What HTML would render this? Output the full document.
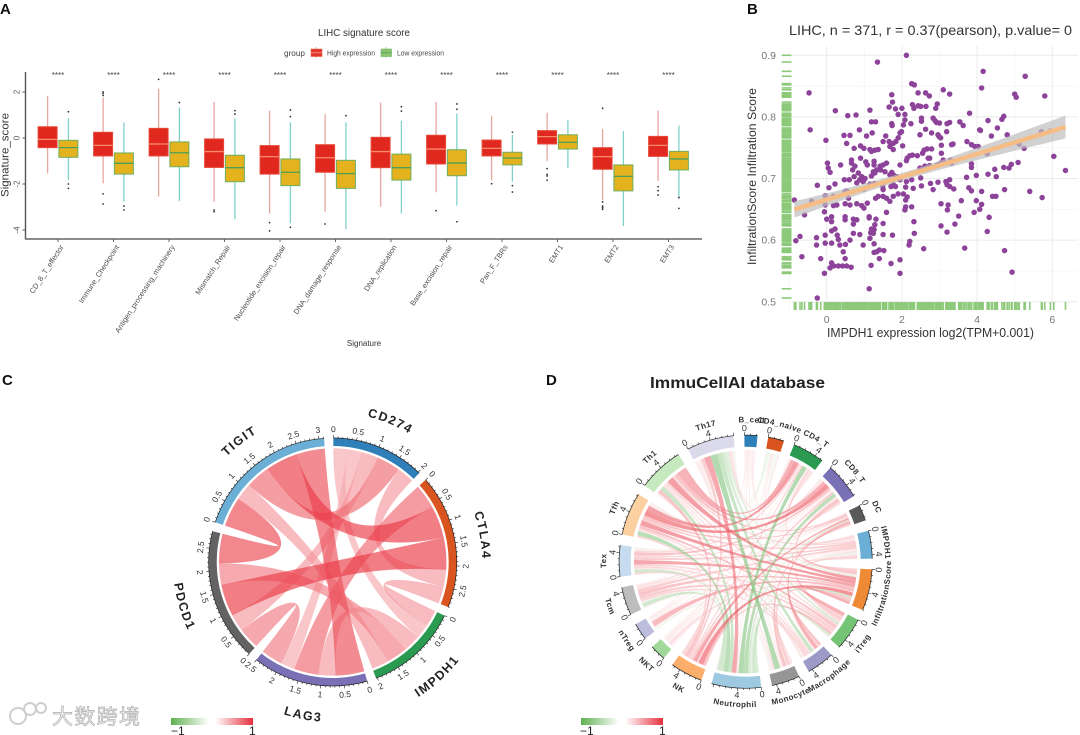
<!DOCTYPE html>
<html lang="en">
<head>
<meta charset="utf-8">
<title>LIHC immune signature figure</title>
<style>
html,body{margin:0;padding:0;background:#fff;}
body{width:1080px;height:735px;overflow:hidden;}
svg{display:block;filter:blur(0.35px);}
text{font-family:"Liberation Sans","Noto Sans CJK SC",sans-serif;}
</style>
</head>
<body>
<svg id="figure" width="1080" height="735" viewBox="0 0 1080 735">
  <defs>
    <linearGradient id="corrGradC" x1="0" x2="1" y1="0" y2="0">
      <stop offset="0" stop-color="#5fb04f"/><stop offset="0.46" stop-color="#ffffff"/><stop offset="0.54" stop-color="#ffffff"/><stop offset="1" stop-color="#e5303c"/>
    </linearGradient>
  </defs>
  <rect x="0" y="0" width="1080" height="735" fill="#fff"/>

  <text x="0" y="14" font-size="15" font-weight="bold" fill="#111">A</text>
  <text x="747" y="14" font-size="15" font-weight="bold" fill="#111">B</text>
  <text x="2" y="385" font-size="15" font-weight="bold" fill="#111">C</text>
  <text x="546" y="385" font-size="15" font-weight="bold" fill="#111">D</text>

  <g id="panelA">
    <text x="318" y="36" font-size="10" fill="#333" textLength="92" lengthAdjust="spacingAndGlyphs">LIHC signature score</text>
    <text x="284" y="56" font-size="8" fill="#444" textLength="21" lengthAdjust="spacingAndGlyphs">group</text>
    <g>
      <line x1="316" x2="316" y1="47" y2="58" stroke="#eaa89e" stroke-width="1"/>
      <rect x="311" y="49" width="11" height="7.5" fill="#e0362c" stroke="#e7604f" stroke-width=".6"/>
      <line x1="311" x2="322" y1="52.7" y2="52.7" stroke="#f98a70" stroke-width="1"/>
      <text x="327" y="55.5" font-size="7" fill="#444" textLength="48" lengthAdjust="spacingAndGlyphs">High expression</text>
    </g>
    <g>
      <line x1="386" x2="386" y1="47" y2="58" stroke="#9bd8a8" stroke-width="1"/>
      <rect x="381" y="49" width="10.5" height="7.5" fill="#8cc46f" stroke="#6fb56a" stroke-width=".6"/>
      <line x1="381" x2="391.5" y1="52.7" y2="52.7" stroke="#5aa862" stroke-width="1"/>
      <text x="397" y="55.5" font-size="7" fill="#444" textLength="47" lengthAdjust="spacingAndGlyphs">Low expression</text>
    </g>
    <line x1="25.5" x2="25.5" y1="72" y2="239.5" stroke="#555" stroke-width="1.4"/>
    <line x1="25" x2="702" y1="239" y2="239" stroke="#666" stroke-width="1.5"/>
    <text transform="translate(8.5,155) rotate(-90)" text-anchor="middle" font-size="11" fill="#333" textLength="84" lengthAdjust="spacingAndGlyphs">Signature_score</text>
    <text x="364" y="346" text-anchor="middle" font-size="8" fill="#333">Signature</text>
  </g>

  <g id="panelB">
    <text x="789" y="35" font-size="14" fill="#333" textLength="283" lengthAdjust="spacingAndGlyphs">LIHC, n = 371, r = 0.37(pearson), p.value= 0</text>
    <text x="827" y="337" font-size="12.5" fill="#333" textLength="207" lengthAdjust="spacingAndGlyphs">IMPDH1 expression log2(TPM+0.001)</text>
    <text transform="translate(756,176.5) rotate(-90)" text-anchor="middle" font-size="12" fill="#333" textLength="177" lengthAdjust="spacingAndGlyphs">InfiltrationScore Infiltration Score</text>
  </g>

  <g id="panelC"></g>
  <g id="panelD">
    <text x="650" y="388" font-size="15.5" font-weight="bold" fill="#222" textLength="175" lengthAdjust="spacingAndGlyphs">ImmuCellAI database</text>
  </g>

  <g>
    <rect x="171" y="718" width="82" height="7" fill="url(#corrGradC)"/>
    <text x="171" y="735" font-size="12" fill="#222">−1</text>
    <text x="249" y="735" font-size="12" fill="#222">1</text>
  </g>
  <g>
    <rect x="581" y="718" width="82" height="7" fill="url(#corrGradC)"/>
    <text x="580" y="735" font-size="12" fill="#222">−1</text>
    <text x="659" y="735" font-size="12" fill="#222">1</text>
  </g>

  <g opacity=".9">
    <circle cx="18" cy="716" r="8" fill="none" stroke="#c9c9c9" stroke-width="2"/>
    <circle cx="30" cy="709" r="6" fill="#fff" stroke="#c9c9c9" stroke-width="2"/>
    <circle cx="41" cy="708" r="5" fill="#fff" stroke="#c9c9c9" stroke-width="2"/>
    <text x="52" y="724" font-size="21" fill="#f2f2f2" stroke="#a8a8a8" stroke-width=".7" textLength="88" style="font-family:'Liberation Sans','Noto Sans CJK SC',sans-serif">大数跨境</text>
  </g>
</svg>

<script>
/* ===== Panel A data ===== */
const categories = ["CD_8_T_effector","Immune_Checkpoint","Antigen_processing_machinery","Mismatch_Repair","Nucleotide_excision_repair","DNA_damage_response","DNA_replication","Base_excision_repair","Pan_F_TBRs","EMT1","EMT2","EMT3"];
const boxYTicks = [2,0,-2,-4];
const significance = ["****","****","****","****","****","****","****","****","****","****","****","****"];
const highQ3 = [.49,.25,.42,-.04,-.33,-.29,.03,.12,-.09,.32,-.42,.07];
const highMedian = [-.06,-.32,-.26,-.59,-.81,-.86,-.59,-.48,-.45,.06,-.81,-.32];
const highQ1 = [-.42,-.78,-.78,-1.28,-1.57,-1.49,-1.29,-1.13,-.78,-.26,-1.36,-.8];
const highWhiskerTop = [1.83,1.75,2.14,1.57,1.19,1.04,1.54,1.57,.96,1.1,.39,1.19];
const highWhiskerBottom = [-1.54,-1.97,-2.55,-2.77,-3.28,-3.2,-2.99,-2.36,-1.83,-1.01,-2.7,-1.87];
const highOutliers = [[],[2,1.94,1.85,-2.43,-2.87],[2.55],[-3.13,-3.2],[-3.68,-4.04],[-3.74],[],[-3.16],[-1.99],[-1.33,-1.58,-1.65,-1.83],[1.29,-2.78,-2.96,-3.03,-3.1],[-2.12,-2.29,-2.48]];
const lowQ3 = [-.1,-.65,-.17,-.75,-.91,-.97,-.7,-.51,-.62,.14,-1.17,-.58];
const lowMedian = [-.42,-1.1,-.64,-1.29,-1.49,-1.55,-1.29,-1.09,-.87,-.19,-1.67,-.91];
const lowQ1 = [-.84,-1.57,-1.25,-1.9,-2.07,-2.19,-1.83,-1.64,-1.17,-.48,-2.3,-1.39];
const lowWhiskerTop = [.86,.67,1.33,.86,.68,.68,.75,1.07,.13,.77,.3,.54];
const lowWhiskerBottom = [-1.83,-2.77,-2.74,-3.54,-3.71,-3.97,-3.28,-2.94,-1.9,-1.32,-3.83,-2.55];
const lowOutliers = [[1.14,-2,-2.19],[-2.96,-3.13],[1.54],[1.19,1.04],[1.22,.93,-3.88],[.97],[1.36,1.17],[1.48,1.25,-3.64],[.25,-2.07,-2.35],[],[],[-2.59,-3.06]];

/* ===== Panel B data ===== */
const scatterX = [
2.12,1.35,4.16,5.28,4.12,-.47,2.26,2.33,3.1,2.43,2.63,2.73,3.27,5.0,5.04,5.8,1.73,1.75,1.66,2.28,
2.32,2.43,2.5,2.64,2.94,2.9,1.83,2,1.15,.23,.56,.78,2.08,1.9,3.8,4.71,4.66,4.29,2.83,2.52,
2.52,2.88,2.92,2.08,2.04,2.24,1.73,1.74,1.19,1.3,3.0,3.2,3.27,3.54,3.63,-.44,.87,1.21,1.06,.46,
.62,1.99,1.95,1.57,2.63,2.48,2.79,3.19,4.07,4.09,4.54,4.38,4.8,5.71,5.95,2.96,2.99,3.03,-.02,.53,
.73,.9,.99,1.15,1.19,1.28,1.37,1.5,1.66,1.77,1.84,1.9,1.68,1.77,2.02,2.59,2.79,2.67,3.05,3.05,
3.36,3.32,3.73,3.85,3.94,4.03,4.27,5.12,5.25,6.04,2.28,2.21,2.14,2.41,2.55,2.74,2.7,3.1,3.29,1.95,
2.12,2.61,2.48,2.74,2.94,3.03,3.32,3.85,3.85,.02,.04,.09,.37,.66,.66,.9,.75,1.04,1.08,1.26,
1.26,1.42,1.5,1.59,1.43,1.33,1.24,1.19,1.28,1.55,1.73,1.77,1.68,.69,.84,.93,1.02,.97,.88,.8,
.47,.6,.73,.06,.22,-.25,-.04,3.98,3.72,4.29,4.47,4.51,4.71,4.85,4.91,5.09,6.35,2.26,2.12,2.5,
2.52,2.76,2.96,3.17,3.27,3.2,3.27,3.38,2.83,3.78,3.85,4.12,4.73,5.4,5.73,4.41,4.5,1.86,1.95,1.77,
1.71,1.83,2.1,2.3,1.49,1.5,1.37,1.3,1.5,1.59,1.77,1.68,1.9,2.04,2.14,2.1,2.26,2.1,2.08,.49,
.53,.99,1.27,1.15,.18,.58,.49,.27,.18,-.04,-.06,.62,.8,.93,.99,1.08,-.4,-.86,-.59,1.59,
.13,0,.13,.49,.49,.71,.8,.71,1.13,1.13,1.31,1.5,1.28,1.19,1.26,1.17,1.24,1.5,1.75,2.32,
2.33,3.04,3.23,3.21,3.04,3.2,3.41,3.51,3.58,3.98,4.12,4.07,3.92,4.32,4.27,.22,.13,-.04,.28,-.27,
-.27,-.71,-.82,-.04,.13,.31,.35,.5,.62,.71,.88,.97,1.15,1.26,1.33,1.26,1.4,1.52,2.21,2.19,
2.58,3.67,4.73,-.66,-.16,.44,.49,1.4,1.71,1.95,.13,.09,.19,.31,.42,.53,.65,1.18,-.06,1.95,4.93,1.13,-.25];
const scatterY = [
.90,.889,.874,.866,.847,.839,.854,.852,.844,.839,.839,.834,.837,.837,.832,.834,.836,.824,.816,.82,
.814,.818,.817,.817,.821,.814,.813,.814,.811,.81,.802,.803,.804,.804,.806,.801,.796,.794,.798,.798,
.793,.794,.791,.795,.787,.789,.789,.786,.792,.792,.79,.789,.791,.792,.786,.779,.779,.774,.769,.77,
.77,.776,.774,.769,.78,.771,.774,.776,.779,.778,.782,.769,.771,.776,.777,.771,.768,.766,.762,.757,
.749,.753,.749,.747,.744,.746,.747,.76,.76,.757,.76,.766,.752,.747,.753,.746,.748,.748,.754,.741,
.756,.755,.76,.755,.752,.752,.74,.756,.749,.736,.738,.737,.733,.737,.741,.733,.733,.73,.73,.722,
.729,.72,.717,.721,.722,.725,.725,.724,.718,.725,.717,.71,.722,.73,.725,.733,.72,.727,.722,.728,
.722,.72,.722,.725,.714,.714,.711,.704,.709,.711,.71,.706,.706,.714,.709,.703,.7,.695,.698,.693,
.698,.698,.703,.685,.691,.689,.672,.705,.702,.707,.715,.703,.718,.717,.723,.726,.713,.698,.695,.701,
.688,.692,.694,.695,.698,.69,.687,.683,.682,.685,.68,.679,.682,.679,.669,.671,.671,.703,.698,.69,
.687,.687,.686,.684,.687,.682,.671,.668,.671,.668,.671,.663,.675,.675,.67,.665,.654,.654,.649,.679,
.68,.683,.692,.691,.671,.668,.659,.657,.656,.657,.646,.657,.659,.656,.652,.66,.663,.665,.641,.645,
.638,.634,.63,.638,.633,.634,.633,.626,.638,.636,.634,.627,.625,.618,.617,.612,.611,.609,.608,.63,
.611,.659,.657,.649,.623,.613,.626,.639,.664,.664,.658,.65,.645,.637,.614,.618,.615,.608,.608,.604,
.592,.606,.599,.595,.595,.601,.592,.593,.6,.611,.609,.592,.603,.594,.581,.58,.584,.583,.598,.592,
.586,.587,.583,.573,.57,.581,.57,.57,.562,.568,.563,.555,.558,.558,.558,.558,.556,.559,.546,.546,.548,.521,.506];
const scatterXTicks = [0,2,4,6];
const scatterYTicks = [.5,.6,.7,.8,.9];

/* ===== Panel C data ===== */
const checkpointSectors = ["CD274","CTLA4","IMPDH1","LAG3","PDCD1","TIGIT"];
const checkpointColors = ["#2f7fb8","#d9541e","#2a9a50","#7a70b5","#636363","#6baed6"];
const checkpointFrom = [0,0,0,0,0,1,1,1,1,2,2,2,3,3,4];
const checkpointTo   = [1,2,3,4,5,2,3,4,5,3,4,5,4,5,5];
const checkpointCorr = [.4,.33,.33,.4,.57,.4,.58,.76,.76,.4,.5,.4,.51,.68,.7];
const checkpointPartnerOrder = [[2,3,4,5,1],[3,5,4,0,2],[1,0,3,4,5],[5,2,1,0,4],[3,0,1,2,5],[4,2,0,1,3]];

/* ===== Panel D data ===== */
const immuneSectors = ["B_cell","CD4_naive","CD4_T","CD8_T","DC","IMPDH1","InfiltrationScore","iTreg","Macrophage","Monocyte","Neutrophil","NK","NKT","nTreg","Tcm","Tex","Tfh","Th1","Th17"];
const immuneColors = ["#2f7fb8","#d9541e","#2a9a50","#7a70b5","#5a5a5a","#6baed6","#ee8a35","#74c476","#9e9ac8","#969696","#9ecae1","#fdae6b","#a1d99b","#bcbddc","#bdbdbd","#c6dbef","#fdd0a2","#c7e9c0","#dadaeb"];
const immuneTotals = [2.2,2.7,5.4,6.2,2.7,4.7,7.0,5.6,4.7,4.8,8.4,5.5,2.7,2.9,4.8,5.3,7.3,7.7,8.0];
const immuneFrom = [
18,18,18,18,18,18,18,18,18,18,18,18,18,18,18,
17,17,17,17,17,17,17,17,17,17,17,17,
16,16,16,16,16,16,16,16,16,16,16,16,16,
15,15,15,15,15,15,15,15,15,15,15,
14,14,14,14,14,14,14,14,14,
13,13,13,13,13,13,13,
12,12,12,12,12,12,
11,11,11,11,11,11,11,
10,10,10,10,10,10,10,10,10,
9,9,9,9,9,9,9,9,
8,8,8,8,8,
7,7,7,7,7,
6,6,6,6,6,6,
5,5,5,5,5,
4,4,4,4,
3,3,3,
2,2,
0];
const immuneTo = [
10,9,8,7,16,17,15,14,13,11,6,3,2,0,1,
10,9,6,3,2,4,5,11,8,7,16,15,
3,2,6,10,4,5,8,9,7,11,12,1,0,
6,5,10,3,2,4,7,8,11,9,1,
6,5,10,3,7,8,4,11,9,
6,5,10,2,3,7,9,
5,6,10,3,4,9,
6,4,7,3,2,5,8,
3,2,4,6,7,5,8,1,0,
4,6,3,7,5,1,0,8,
4,6,2,5,3,
4,5,6,3,2,
5,4,3,2,1,0,
4,3,2,0,1,
3,2,0,1,
2,0,1,
0,1,
1];
const immuneCorr = [
.45,-.5,-.35,-.25,.1,.08,.1,.08,.1,.25,-.2,.15,.12,.08,-.1,
-.35,.15,.5,.4,.4,.3,.2,.3,.15,.2,.1,.08,
.55,.5,.5,-.45,.3,.25,.2,.1,.3,.2,.05,-.1,.1,
.45,.25,-.3,.3,.2,.2,.2,.2,.2,.1,-.1,
.3,.25,-.3,.15,.25,.2,.15,.1,-.1,
.35,.1,-.1,.1,.08,.1,.05,
.08,.15,.05,.1,.1,.05,
.55,.45,.3,.25,.2,.15,.1,
-.45,-.5,-.25,-.3,-.25,-.15,-.1,.1,.1,
.3,.25,.1,.1,.1,.1,.1,.15,
.4,.3,.1,.1,.08,
.25,.2,.4,.2,.1,
.2,.25,.3,.2,-.08,.05,
.1,.2,.15,.05,.05,
.15,.1,.1,-.05,
.15,.08,-.08,
.08,.1,
.05];

/* ===== helpers ===== */
const NS = "http://www.w3.org/2000/svg";
function mk(tag, attrs, parent) {
  const e = document.createElementNS(NS, tag);
  for (const k in attrs) e.setAttribute(k, attrs[k]);
  parent.appendChild(e);
  return e;
}
const svgRoot = document.getElementById("figure");
const defsEl = svgRoot.querySelector("defs");

/* ===== Panel A ===== */
const panelA = document.getElementById("panelA");
const xA = i => 58 + 55.5 * i;
const yA = v => 138 - 23 * v;
const BOX_W = 19, BOX_OFF = 10.4;

boxYTicks.forEach(v => {
  const t = mk("line", {x1: 22.5, x2: 25, y1: yA(v), y2: yA(v), stroke: "#555", "stroke-width": 1}, panelA);
  
  
  const l = mk("text", {transform: `translate(19.5,${yA(v)}) rotate(-90)`, "text-anchor": "middle", "font-size": 8, fill: "#555"}, panelA);
  l.textContent = String(v);
  
  
});

function drawBox(i, cx, q1, med, q3, lo, hi, outs, style) {
  const g = mk("g", {}, panelA);
  
  
  const w = mk("line", {x1: cx, x2: cx, y1: yA(hi), y2: yA(lo), stroke: style.whisker, "stroke-width": 1.3}, g);
  
  
  const r = mk("rect", {x: cx - BOX_W / 2, y: yA(q3), width: BOX_W, height: yA(q1) - yA(q3), fill: style.fill, stroke: style.stroke, "stroke-width": 1}, g);
  
  
  const m = mk("line", {x1: cx - BOX_W / 2, x2: cx + BOX_W / 2, y1: yA(med), y2: yA(med), stroke: style.median, "stroke-width": 1.3}, g);
  
  
  outs.forEach(v => {
    const o = mk("circle", {cx: cx, cy: yA(v), r: 0.9, fill: "#333"}, g);
    
    
  });
}
const highStyle = {key: "high", fill: "#e0281f", stroke: "#e64a38", median: "#f98a70", whisker: "#e5a79e"};
const lowStyle = {key: "low", fill: "#e3b21c", stroke: "#6fae5f", median: "#4e9e5a", whisker: "#82d0cc"};

categories.forEach((name, i) => {
  const x = xA(i);
  const tick = mk("line", {x1: x, x2: x, y1: 239, y2: 242, stroke: "#666", "stroke-width": 1}, panelA);
  
  
  const label = mk("text", {transform: `translate(${x + 6},247) rotate(-57)`, "text-anchor": "end", "font-size": 7.4, fill: "#4d4d4d"}, panelA);
  label.textContent = name;
  
  
  const star = mk("text", {x: x, y: 78, "text-anchor": "middle", "font-size": 8, fill: "#444"}, panelA);
  star.textContent = significance[i];
  
  
  drawBox(i, x - BOX_OFF, highQ1[i], highMedian[i], highQ3[i], highWhiskerBottom[i], highWhiskerTop[i], highOutliers[i], highStyle);
  drawBox(i, x + BOX_OFF, lowQ1[i], lowMedian[i], lowQ3[i], lowWhiskerBottom[i], lowWhiskerTop[i], lowOutliers[i], lowStyle);
});

/* ===== Panel B ===== */
const panelB = document.getElementById("panelB");
const xB = v => 826.7 + 37.6 * v;
const yB = v => 301.7 - 616 * (v - 0.5);
const PLOT_L = 792, PLOT_R = 1078, PLOT_T = 46, PLOT_B = 311;

[-1, 1, 3, 5].forEach(v => {
  const g = mk("line", {x1: xB(v), x2: xB(v), y1: PLOT_T, y2: PLOT_B, stroke: "#f4f4f4", "stroke-width": .7}, panelB);
  
  
});
[.55, .65, .75, .85].forEach(v => {
  const g = mk("line", {x1: PLOT_L, x2: PLOT_R, y1: yB(v), y2: yB(v), stroke: "#f4f4f4", "stroke-width": .7}, panelB);
  
  
});
scatterXTicks.forEach(v => {
  const g = mk("line", {x1: xB(v), x2: xB(v), y1: PLOT_T, y2: PLOT_B, stroke: "#ebebeb", "stroke-width": 1}, panelB);
  
  
  const l = mk("text", {x: xB(v), y: 323, "text-anchor": "middle", "font-size": 10.5, fill: "#777"}, panelB);
  l.textContent = String(v);
  
  
});
scatterYTicks.forEach(v => {
  const g = mk("line", {x1: PLOT_L, x2: PLOT_R, y1: yB(v), y2: yB(v), stroke: "#ebebeb", "stroke-width": 1}, panelB);
  
  
  const l = mk("text", {x: 776, y: yB(v) + 3.6, "text-anchor": "end", "font-size": 10.5, fill: "#777"}, panelB);
  l.textContent = v.toFixed(1);
  
  
});

const rugX = mk("g", {}, panelB);


const rugY = mk("g", {}, panelB);


scatterX.forEach((v, i) => {
  const a = mk("line", {x1: xB(v), x2: xB(v), y1: 302, y2: 310, stroke: "#8cca7a", "stroke-width": 1.6}, rugX);
  
  
  const b = mk("line", {x1: 781.7, x2: 791.5, y1: yB(scatterY[i]), y2: yB(scatterY[i]), stroke: "#8cca7a", "stroke-width": 1.6}, rugY);
  
  
});

scatterX.forEach((v, i) => {
  const p = mk("circle", {cx: xB(v), cy: yB(scatterY[i]), r: 2.75, fill: "#8c4399"}, panelB);
  
  
});

/* least-squares fit computed from the data arrays */
(function () {
  const n = scatterX.length;
  const mx = scatterX.reduce((a, b) => a + b, 0) / n;
  const my = scatterY.reduce((a, b) => a + b, 0) / n;
  let sxx = 0, sxy = 0;
  scatterX.forEach((v, i) => { sxx += (v - mx) * (v - mx); sxy += (v - mx) * (scatterY[i] - my); });
  const slope = sxy / sxx, icpt = my - slope * mx;
  let sse = 0;
  scatterX.forEach((v, i) => { const e = scatterY[i] - (icpt + slope * v); sse += e * e; });
  const s = Math.sqrt(sse / (n - 2));
  const x0 = Math.min.apply(null, scatterX), x1 = Math.max.apply(null, scatterX);
  const up = [], dn = [];
  for (let k = 0; k <= 30; k++) {
    const x = x0 + (x1 - x0) * k / 30;
    const se = 1.5 * s * Math.sqrt(1 / n + (x - mx) * (x - mx) / sxx);
    up.push(xB(x) + "," + yB(icpt + slope * x + se));
    dn.unshift(xB(x) + "," + yB(icpt + slope * x - se));
  }
  const band = mk("polygon", {points: up.concat(dn).join(" "), fill: "#bdbdbd", "fill-opacity": .7}, panelB);
  
  
  const line = mk("line", {x1: xB(x0), y1: yB(icpt + slope * x0), x2: xB(x1), y2: yB(icpt + slope * x1), stroke: "#f5bd85", "stroke-width": 4.5}, panelB);
  
  
})();

/* ===== Chord diagrams ===== */
function corrColor(c, scale) {
  const t = Math.min(1, Math.abs(c) * scale);
  const end = c >= 0 ? [232, 48, 60] : [92, 176, 84];
  const ch = end.map(e => Math.round(255 + (e - 255) * t));
  return "rgb(" + ch.join(",") + ")";
}

function drawChord(cfg) {
  const parent = cfg.parent, n = cfg.names.length, cx = cfg.cx, cy = cfg.cy;
  const pol = (R, deg) => { const a = deg * Math.PI / 180; return [cx + R * Math.sin(a), cy - R * Math.cos(a)]; };
  const arcTo = (R, from, to) => {
    const p = pol(R, to), large = Math.abs(to - from) > 180 ? 1 : 0, sweep = to > from ? 1 : 0;
    return `A${R} ${R} 0 ${large} ${sweep} ${p[0]} ${p[1]}`;
  };
  const totalAll = cfg.totals.reduce((a, b) => a + b, 0);
  const k = (360 - n * cfg.gap) / totalAll;
  const starts = [];
  let cur = cfg.start;
  cfg.totals.forEach((t, i) => { starts[i] = cur; cur += t * k + cfg.gap; });

  /* allocate link ends along each sector */
  const ends = cfg.from.map(() => ({}));
  for (let s = 0; s < n; s++) {
    const idx = [];
    cfg.from.forEach((f, l) => { if (f === s || cfg.to[l] === s) idx.push(l); });
    const partner = l => (cfg.from[l] === s ? cfg.to[l] : cfg.from[l]);
    if (cfg.order) {
      idx.sort((a, b) => cfg.order[s].indexOf(partner(a)) - cfg.order[s].indexOf(partner(b)));
    } else {
      idx.sort((a, b) => ((s - partner(a) + n) % n) - ((s - partner(b) + n) % n));
    }
    const sum = idx.reduce((a, l) => a + Math.abs(cfg.corr[l]), 0);
    let a = starts[s];
    idx.forEach(l => {
      const w = cfg.totals[s] * k * Math.abs(cfg.corr[l]) / (sum || 1);
      const key = cfg.from[l] === s ? "a" : "b";
      ends[l][key] = [a, a + w];
      a += w;
    });
  }

  /* ribbons */
  const ribbons = mk("g", {}, parent);
  
  
  const order = cfg.from.map((_, l) => l).sort((p, q) => Math.abs(cfg.corr[p]) - Math.abs(cfg.corr[q]));
  order.forEach(l => {
    const A = ends[l].a, B = ends[l].b, R = cfg.rLink;
    const a0 = pol(R, A[0]), b0 = pol(R, B[0]);
    const d = `M${a0[0]} ${a0[1]}${arcTo(R, A[0], A[1])}Q${cx} ${cy} ${b0[0]} ${b0[1]}${arcTo(R, B[0], B[1])}Q${cx} ${cy} ${a0[0]} ${a0[1]}Z`;
    const r = mk("path", {d: d, fill: corrColor(cfg.corr[l], cfg.colorScale), "fill-opacity": cfg.opacity}, ribbons);
    
    
  });

  /* sectors */
  cfg.names.forEach((name, i) => {
    const s0 = starts[i], s1 = s0 + cfg.totals[i] * k;
    const g = mk("g", {}, parent);
    
    
    const p0 = pol(cfg.rOuter, s0), p1 = pol(cfg.rInner, s1);
    const d = `M${p0[0]} ${p0[1]}${arcTo(cfg.rOuter, s0, s1)}L${p1[0]} ${p1[1]}${arcTo(cfg.rInner, s1, s0)}Z`;
    const track = mk("path", {d: d, fill: cfg.colors[i]}, g);
    
    
    const bs = pol(cfg.rOuter, s0);
    const base = mk("path", {d: `M${bs[0]} ${bs[1]}${arcTo(cfg.rOuter, s0, s1)}`, fill: "none", stroke: "#222", "stroke-width": .7}, g);
    
    

    /* ticks */
    const count = Math.floor(cfg.totals[i] / cfg.tickStep + 1e-6);
    for (let t = 0; t <= count; t++) {
      const v = t * cfg.tickStep, ang = s0 + v * k, major = t % cfg.majorEvery === 0;
      const q0 = pol(cfg.rOuter, ang), q1 = pol(cfg.rOuter + (major ? 3 : 1.6), ang);
      const tick = mk("line", {x1: q0[0], y1: q0[1], x2: q1[0], y2: q1[1], stroke: "#222", "stroke-width": .6}, g);
      
      
      if (major && v <= cfg.maxLabel) {
        const c = pol(cfg.rTickLabel, ang);
        const norm = ((ang % 360) + 360) % 360;
        const rot = (norm <= 90 || norm >= 270) ? norm : norm - 180;
        const lab = mk("text", {transform: `translate(${c[0]},${c[1]}) rotate(${rot})`, "text-anchor": "middle", "dominant-baseline": "central", "font-size": cfg.tickFont, fill: "#333"}, g);
        lab.textContent = String(+v.toFixed(1));
        
        
      }
    }

    /* sector name on a circular path */
    const mid = (s0 + s1) / 2, norm = ((mid % 360) + 360) % 360;
    const top = norm <= 90 || norm >= 270;
    const Rn = top ? cfg.rNameTop : cfg.rNameBottom, span = cfg.nameSpan;
    const from = top ? mid - span : mid + span, to = top ? mid + span : mid - span;
    const pf = pol(Rn, from);
    const id = cfg.idPrefix + i;
    const pathEl = mk("path", {id: id, d: `M${pf[0]} ${pf[1]}${arcTo(Rn, from, to)}`, fill: "none"}, defsEl);
    
    
    const txt = mk("text", {"font-size": cfg.nameFont, "font-weight": "bold", fill: cfg.nameFill, "letter-spacing": cfg.nameSpacing, "text-anchor": "middle"}, g);
    
    
    const tp = mk("textPath", {href: "#" + id, startOffset: "50%"}, txt);
    
    
    tp.textContent = name;
  });
}

const checkpointTotals = checkpointSectors.map((_, s) => {
  let t = 0;
  checkpointFrom.forEach((f, l) => { if (f === s || checkpointTo[l] === s) t += checkpointCorr[l]; });
  return t;
});

drawChord({
  parent: document.getElementById("panelC"), idPrefix: "nameC",
  cx: 332.7, cy: 562, rOuter: 124, rInner: 116, rLink: 113.7, rTickLabel: 133,
  names: checkpointSectors, colors: checkpointColors, totals: checkpointTotals,
  from: checkpointFrom, to: checkpointTo, corr: checkpointCorr, order: checkpointPartnerOrder,
  gap: 4.3, start: 0.3, tickStep: .1, majorEvery: 5, tickFont: 8.5, maxLabel: 99,
  colorScale: 1.25, opacity: .66,
  rNameTop: 149.5, rNameBottom: 160, nameFont: 12.5, nameSpacing: 1.5, nameSpan: 40, nameFill: "#222"
});

drawChord({
  parent: document.getElementById("panelD"), idPrefix: "nameD",
  cx: 745.7, cy: 561.7, rOuter: 126.6, rInner: 115, rLink: 111.7, rTickLabel: 133.5,
  names: immuneSectors, colors: immuneColors, totals: immuneTotals,
  from: immuneFrom, to: immuneTo, corr: immuneCorr,
  gap: 4.9, start: -0.6, tickStep: 1, majorEvery: 4, tickFont: 9, maxLabel: 4,
  colorScale: 1.5, opacity: .62,
  rNameTop: 139.5, rNameBottom: 145.5, nameFont: 8, nameSpacing: .4, nameSpan: 45, nameFill: "#333"
});
</script>
</body>
</html>
